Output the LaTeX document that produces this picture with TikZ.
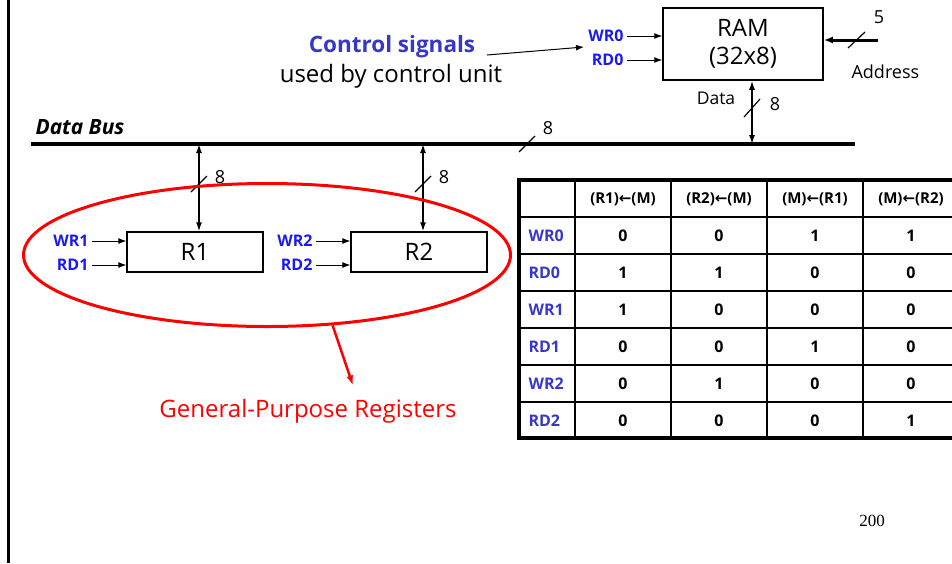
\documentclass[tikz,border=0pt]{standalone}
\usepackage{fontspec}
\setmainfont{Open Sans}
\newfontfamily\pagefont{Liberation Serif}
\newfontfamily\arrowfont{DejaVu Sans}
\usetikzlibrary{arrows.meta,shapes.geometric}
\definecolor{sigBlue}{HTML}{1A1AF0}
\definecolor{tabBlue}{HTML}{3838C8}
\definecolor{gprRed}{HTML}{FF0000}

\begin{document}
\begin{tikzpicture}[x=1pt,y=-1pt,
    fs/.style={font=\fontsize{#1}{#1}\selectfont},
    regbox/.style={draw,line width=1.2pt,minimum width=136pt,minimum height=40pt,fs=24},
    sig/.style={-{Latex[length=8pt,width=6pt]},line width=1pt},
    busarr/.style={{Latex[length=9pt,width=6pt]}-{Latex[length=9pt,width=6pt]},line width=1.5pt},
    sigl/.style={anchor=east,text=sigBlue,font=\fontsize{16}{16}\selectfont\bfseries},
    width/.style={fs=18},
    rowlab/.style={anchor=west,text=tabBlue,font=\fontsize{16}{16}\selectfont\bfseries},
    cell/.style={font=\fontsize{16}{16}\selectfont\bfseries},
    hdr/.style={font=\fontsize{15}{15}\selectfont\bfseries}]
  \useasboundingbox (0,0) rectangle (952,563);
  \draw[line width=3pt] (8,0) -- (8,563);
  \coordinate (busL) at (31,144);
  \coordinate (busR) at (855,144);
  \draw[line width=4pt] (busL) -- (busR);
  \node[anchor=base west,font=\fontsize{21}{21}\selectfont\bfseries\itshape] (buslab) at (32,134) {Data Bus};
  \draw[line width=1.2pt] (519,152) -- (535,136);
  \node[width] (buswidth) at (548,128) {8};
  \node[draw,line width=1.5pt,minimum width=160pt,minimum height=72pt,align=center,font=\fontsize{24}{28}\selectfont] (ram) at (743,44) {RAM\\(32x8)};
  \node[sigl] (wr0) at (627,36) {WR0};
  \node[sigl] (rd0) at (627,60) {RD0};
  \draw[sig] (wr0) -- (wr0 -| ram.west);
  \draw[sig] (rd0) -- (rd0 -| ram.west);
  \node[font=\fontsize{22.5}{22.5}\selectfont\bfseries,text=tabBlue] (ctrl) at (392,47) {Control signals};
  \node[fs=24] (ctrlsub) at (391,76) {used by control unit};
  \coordinate (ctrltip) at (584,47);
  \draw[sig] (487,55) -- (ctrltip);
  \coordinate (addr) at (878,40);
  \draw[-{Latex[length=9pt,width=7pt]},line width=3pt] (addr) -- (addr -| ram.east);
  \draw[line width=1.2pt] (848,48) -- (865,32);
  \node[width] (addrwidth) at (879,17) {5};
  \node[fs=18,anchor=west] (addrlab) at (848,72) {Address};
  \draw[busarr] ([xshift=9pt]ram.south) -- ([xshift=9pt]ram.south |- busL);
  \draw[line width=1.2pt] (744,117) -- (760,99);
  \node[width] (ramwidth) at (775,104) {8};
  \node[fs=17.5] (datalab) at (716,98) {Data};
  \node[regbox] (r1) at (195,252) {R1};
  \node[regbox] (r2) at (419,252) {R2};
  \draw[busarr] ([xshift=4pt]r1.north |- busL) -- ([xshift=4pt]r1.north);
  \draw[busarr] ([xshift=4pt]r2.north |- busL) -- ([xshift=4pt]r2.north);
  \draw[line width=1.2pt] (191,192) -- (207,176);
  \draw[line width=1.2pt] (415,192) -- (431,176);
  \node[width] (r1width) at (220,177) {8};
  \node[width] (r2width) at (444,177) {8};
  \node[sigl] (wr1) at (92,241) {WR1};
  \node[sigl] (rd1) at (92,265) {RD1};
  \node[sigl] (wr2) at (316,241) {WR2};
  \node[sigl] (rd2) at (316,265) {RD2};
  \draw[sig] (wr1) -- (wr1 -| r1.west);
  \draw[sig] (rd1) -- (rd1 -| r1.west);
  \draw[sig] (wr2) -- (wr2 -| r2.west);
  \draw[sig] (rd2) -- (rd2 -| r2.west);
  \node[ellipse,draw=gprRed,line width=3pt,minimum width=487pt,minimum height=143pt] (gpr) at (267,255) {};
  \node[fs=24,text=gprRed] (gprlab) at (308,411) {General-Purpose Registers};
  \draw[gprRed,line width=2.5pt,-{Latex[length=10pt,width=7pt]}] (gpr.-47) -- ([xshift=45pt,yshift=10pt]gprlab.north);
  \foreach \x in {575,671,767,863}
    \draw[line width=2pt] (\x,180) -- (\x,438);
  \foreach \y in {217,254,291,328,365,402}
    \draw[line width=2pt] (519,\y) -- (960,\y);
  \draw[line width=3.5pt] (960,180) -- (519,180) -- (519,438) -- (960,438);
  \node[hdr] (h1) at (623,199) {(R1){\arrowfont\bfseries ←}(M)};
  \node[hdr] (h2) at (719,199) {(R2){\arrowfont\bfseries ←}(M)};
  \node[hdr] (h3) at (815,199) {(M){\arrowfont\bfseries ←}(R1)};
  \node[hdr] (h4) at (911,199) {(M){\arrowfont\bfseries ←}(R2)};
  \foreach \lab/\a/\b/\c/\d [count=\i] in {WR0/0/0/1/1,RD0/1/1/0/0,WR1/1/0/0/0,RD1/0/0/1/0,WR2/0/1/0/0,RD2/0/0/0/1} {
    \node[rowlab] (row\i) at (525,{198.5+37*\i}) {\lab};
    \node[cell] (c\i a) at (623,{198.5+37*\i}) {\a};
    \node[cell] (c\i b) at (719,{198.5+37*\i}) {\b};
    \node[cell] (c\i c) at (815,{198.5+37*\i}) {\c};
    \node[cell] (c\i d) at (911,{198.5+37*\i}) {\d};
  }
  \node[font=\fontsize{17}{17}\selectfont\pagefont] (pagenum) at (872,521) {200};
\end{tikzpicture}
\end{document}
